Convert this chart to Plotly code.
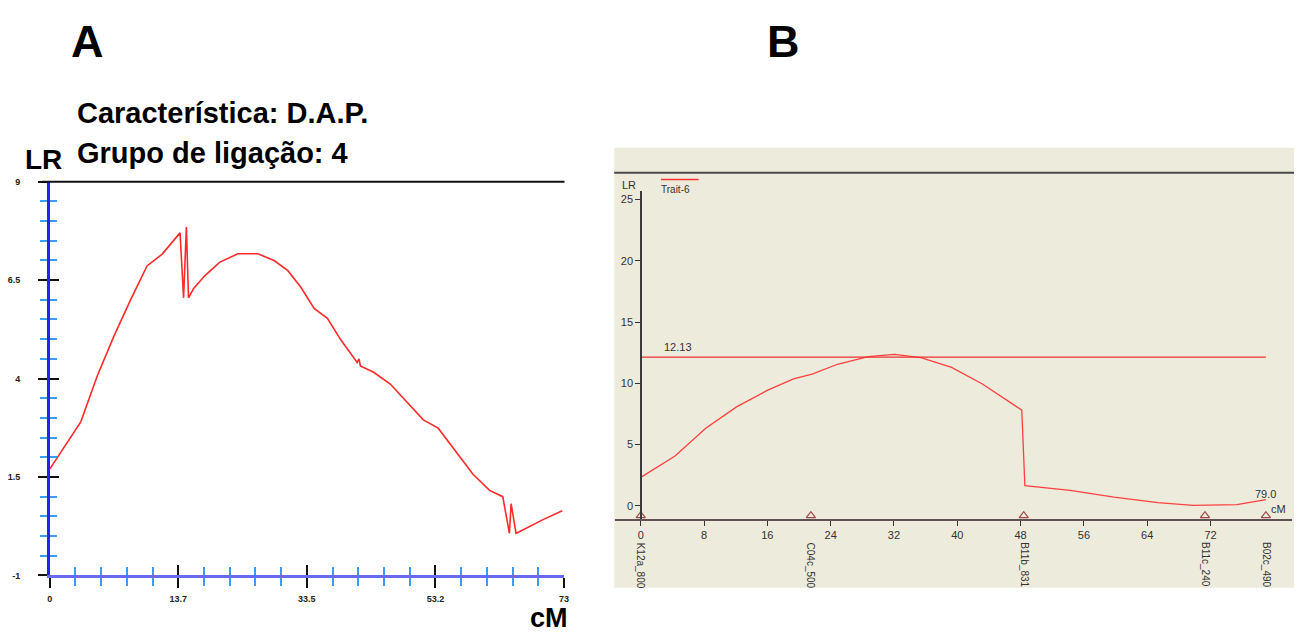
import plotly.graph_objects as go

W, H = 1299, 637
FONT = "Arial, Liberation Sans, sans-serif"

# ---------------- Panel A data ----------------
a_cm = [0, 4.41, 6.76, 9.1, 11.46, 13.81, 15.97, 18.5, 19.0, 19.4, 19.7, 20.4,
        22.0, 24.1, 26.7, 29.55, 31.9, 33.8, 35.65, 37.53, 39.41, 41.29, 43.64,
        43.9, 44.1, 45.98, 48.34, 50.69, 53.03, 55.14, 57.74, 60.08, 62.43, 64.3,
        65.25, 65.49, 66.19, 66.66, 69.94, 72.76]
a_lr = [1.70, 2.90, 4.07, 5.07, 5.99, 6.86, 7.16, 7.70, 6.05, 7.85, 6.05, 6.28,
        6.61, 6.95, 7.17, 7.17, 6.99, 6.74, 6.32, 5.78, 5.53, 4.99, 4.41,
        4.50, 4.32, 4.16, 3.86, 3.41, 2.95, 2.74, 2.11, 1.57, 1.16, 1.00,
        0.07, 0.82, 0.07, 0.11, 0.41, 0.64]
a_xtick_vals = [0, 18.25, 36.5, 54.75, 73]
a_xtick_text = ["0", "13.7", "33.5", "53.2", "73"]
a_ytick_vals = [-1, 1.5, 4, 6.5, 9]
a_ytick_text = ["-1", "1.5", "4", "6.5", "9"]

# ---------------- Panel B data ----------------
b_cm = [0, 2.0, 4.33, 8.21, 12.1, 15.98, 19.3, 21.65, 24.86, 28.74, 32.07, 35.4,
        39.28, 43.17, 46.22, 48.15, 48.54, 54.26, 59.8, 65.35, 69.8, 75.33, 79.0]
b_lr = [2.31, 3.1, 4.05, 6.33, 8.07, 9.41, 10.35, 10.75, 11.55, 12.17, 12.36, 12.09,
        11.29, 9.94, 8.6, 7.8, 1.64, 1.24, 0.70, 0.24, 0.03, 0.08, 0.50]
threshold = 12.13
threshold_span = [0, 79.0]
marker_names = ["K12a_800", "C04c_500", "B11b_831", "B11c_240", "B02c_490"]
marker_pos = [0, 21.5, 48.4, 71.3, 79.0]
b_xticks = [0, 8, 16, 24, 32, 40, 48, 56, 64, 72]
b_yticks = [0, 5, 10, 15, 20, 25]


def px(x):
    return x / W


def py(y):
    return 1 - y / H


fig = go.Figure()

# Panel A curve
fig.add_trace(go.Scatter(x=a_cm, y=a_lr, mode="lines", xaxis="x", yaxis="y",
                         line=dict(color="#FF2A2A", width=1.6), showlegend=False,
                         hoverinfo="skip"))
# dummy trace for inside-tick overlay axes
fig.add_trace(go.Scatter(x=[None], y=[None], xaxis="x3", yaxis="y3",
                         showlegend=False, hoverinfo="skip"))

# Panel B curve and threshold
fig.add_trace(go.Scatter(x=b_cm, y=b_lr, mode="lines", xaxis="x2", yaxis="y2",
                         line=dict(color="#FF4040", width=1.3), showlegend=False,
                         hoverinfo="skip"))
fig.add_trace(go.Scatter(x=threshold_span, y=[threshold, threshold], mode="lines",
                         xaxis="x2", yaxis="y2",
                         line=dict(color="#F03030", width=1.3), showlegend=False,
                         hoverinfo="skip"))
fig.add_trace(go.Scatter(x=marker_pos, y=[-0.82] * len(marker_pos), mode="markers",
                         xaxis="x2", yaxis="y2", cliponaxis=False,
                         marker=dict(symbol="triangle-up-open", size=8,
                                     color="#A04848", line=dict(width=1.2)),
                         showlegend=False, hoverinfo="skip"))

a_xdom = [px(47), px(564.5)]
a_ydom = [py(579.5), py(179.5)]
tickfontA = dict(family=FONT, size=9, color="#222", weight="bold")

fig.update_layout(
    width=W, height=H, margin=dict(l=0, r=0, t=0, b=0),
    paper_bgcolor="white", plot_bgcolor="rgba(0,0,0,0)",
    xaxis=dict(domain=a_xdom, anchor="y", range=[0, 73], showgrid=False,
               zeroline=False, showline=True, linecolor="#6A6AF0", linewidth=3,
               tickmode="array", tickvals=a_xtick_vals, ticktext=a_xtick_text,
               ticks="outside", ticklen=10, tickwidth=2, tickcolor="#111",
               tickfont=tickfontA, ticklabelstandoff=3,
               minor=dict(tickmode="linear", tick0=0, dtick=3.65, ticks="outside",
                          ticklen=8, tickwidth=2, tickcolor="#3A9BFF")),
    yaxis=dict(domain=a_ydom, anchor="x", range=[-1, 9], showgrid=False,
               zeroline=False, showline=True, linecolor="#2222FF", linewidth=2.5,
               tickmode="array", tickvals=a_ytick_vals, ticktext=a_ytick_text,
               ticks="outside", ticklen=9, tickwidth=2, tickcolor="#111",
               tickfont=tickfontA, ticklabelstandoff=16,
               minor=dict(tickmode="linear", tick0=-1, dtick=0.5, ticks="outside",
                          ticklen=7, tickwidth=2, tickcolor="#3A9BFF")),
    xaxis3=dict(overlaying="x", anchor="y", range=[0, 73], showgrid=False,
                zeroline=False, showline=False, showticklabels=False,
                tickmode="array", tickvals=a_xtick_vals,
                ticks="inside", ticklen=10, tickwidth=2, tickcolor="#111",
                minor=dict(tickmode="linear", tick0=0, dtick=3.65, ticks="inside",
                           ticklen=8, tickwidth=2, tickcolor="#3A9BFF")),
    yaxis3=dict(overlaying="y", anchor="x", range=[-1, 9], showgrid=False,
                zeroline=False, showline=False, showticklabels=False,
                tickmode="array", tickvals=a_ytick_vals,
                ticks="inside", ticklen=9, tickwidth=2, tickcolor="#111",
                minor=dict(tickmode="linear", tick0=-1, dtick=0.5, ticks="inside",
                           ticklen=7, tickwidth=2, tickcolor="#3A9BFF")),
    xaxis2=dict(domain=[px(616), px(1297)], anchor="y2", range=[-3.23, 82.3],
                showgrid=False, zeroline=False, showline=True, linecolor="#5E5252",
                linewidth=2, tickmode="array", tickvals=b_xticks,
                ticks="outside", ticklen=5, tickwidth=1, tickcolor="#333",
                tickfont=dict(family=FONT, size=11, color="#333")),
    yaxis2=dict(domain=[py(521.7), py(189)], anchor="free", position=px(642),
                range=[-1.05, 25.7], showgrid=False, zeroline=False, showline=True,
                linecolor="#3A3A3A", linewidth=1.5, tickmode="array",
                tickvals=b_yticks, ticks="outside", ticklen=5, tickwidth=1,
                tickcolor="#333", tickfont=dict(family=FONT, size=11, color="#333")),
)

shapes = [
    # Panel B beige background
    dict(type="rect", xref="paper", yref="paper", x0=px(615), x1=px(1299),
         y0=py(592), y1=py(145), fillcolor="#ECEBDC", line=dict(width=0),
         layer="below"),
    # Panel B top frame line
    dict(type="line", xref="paper", yref="paper", x0=px(615), x1=px(1299),
         y0=py(170.5), y1=py(170.5), line=dict(color="#4A4A4A", width=2)),
    # Panel B legend swatch
    dict(type="line", xref="paper", yref="paper", x0=px(662), x1=px(700),
         y0=py(177.3), y1=py(177.3), line=dict(color="#FF3030", width=1.3)),
    # Panel A top frame line
    dict(type="line", xref="paper", yref="y domain", x0=px(39), x1=px(565),
         y0=1, y1=1, line=dict(color="#111", width=2)),
]

annotations = [
    dict(text="<b>A</b>", x=px(85), y=py(37), font=dict(family=FONT, size=45, color="black")),
    dict(text="<b>B</b>", x=px(785), y=py(37), font=dict(family=FONT, size=45, color="black")),
    dict(text="<b>Característica: D.A.P.</b>", x=px(72), y=py(110), xanchor="left",
         font=dict(family=FONT, size=29, color="black")),
    dict(text="<b>Grupo de ligação: 4</b>", x=px(72), y=py(150), xanchor="left",
         font=dict(family=FONT, size=29, color="black")),
    dict(text="<b>LR</b>", x=px(41), y=py(157), font=dict(family=FONT, size=28, color="black")),
    dict(text="<b>cM</b>", x=px(549), y=py(623), font=dict(family=FONT, size=27, color="black")),
    dict(text="LR", x=px(630), y=py(183), font=dict(family=FONT, size=11, color="#333")),
    dict(text="Trait-6", x=px(660), y=py(187), xanchor="left",
         font=dict(family=FONT, size=10, color="#333")),
    dict(text=f"{threshold:.2f}", x=4.75, y=13.0, xref="x2", yref="y2",
         font=dict(family=FONT, size=11, color="#333")),
    dict(text=f"{b_cm[-1]:.1f}", x=78.9, y=0.95, xref="x2", yref="y2",
         font=dict(family=FONT, size=11, color="#333")),
    dict(text="cM", x=80.6, y=-0.3, xref="x2", yref="y2",
         font=dict(family=FONT, size=11, color="#333")),
]
for name, pos in zip(marker_names, marker_pos):
    annotations.append(dict(text=name, x=pos, xref="x2", y=py(544), yref="paper",
                            yanchor="top", textangle=90,
                            font=dict(family=FONT, size=10, color="#333")))

for a in annotations:
    a.setdefault("xref", "paper")
    a.setdefault("yref", "paper")
    a.setdefault("xanchor", "center")
    a.setdefault("yanchor", "middle")
    a.setdefault("showarrow", False)

fig.update_layout(shapes=shapes, annotations=annotations)
fig.write_html("out.html")
